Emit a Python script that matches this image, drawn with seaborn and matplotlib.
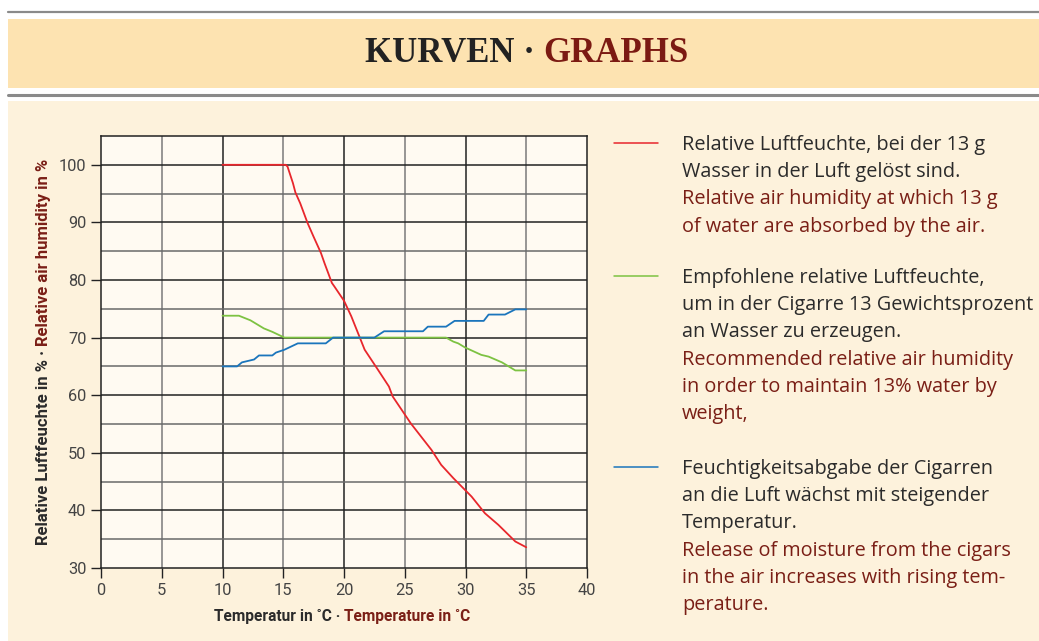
import numpy as np
import pandas as pd
import seaborn as sns
import matplotlib.pyplot as plt
from matplotlib.patches import Rectangle
from matplotlib.lines import Line2D

# values
red_x = [10, 15.2, 15.35, 15.8, 16.0, 16.4, 17.0, 17.5, 18.1, 18.4, 19.0, 19.2, 20.0, 20.6,
         21.7, 22.8, 23.7, 24.0, 25.5, 27.2, 28.0, 29.0, 30.5, 31.6, 32.7, 34.1, 35.0]
red_y = [100, 100, 99.7, 96.8, 95.2, 93.3, 89.9, 87.5, 84.7, 82.9, 79.5, 78.9, 76.4, 73.7,
         67.9, 64.4, 61.5, 59.8, 55.1, 50.5, 47.9, 45.6, 42.4, 39.5, 37.5, 34.6, 33.6]

green_x = [10, 11.35, 12.3, 13.4, 14.1, 15.1, 28.4, 29.0, 29.4, 29.95, 31.3, 31.9, 33.0, 34.1, 35.0]
green_y = [73.8, 73.8, 73.0, 71.6, 71.0, 70.0, 70.0, 69.3, 69.0, 68.3, 67.0, 66.7, 65.7, 64.3, 64.3]

blue_x = [10, 11.2, 11.6, 12.6, 13.0, 14.1, 14.4, 15.1, 16.2, 18.5, 19.1, 22.5, 23.3, 26.5,
          26.9, 28.4, 29.1, 31.5, 31.9, 33.25, 34.1, 35.0]
blue_y = [65.0, 65.0, 65.7, 66.2, 66.9, 66.9, 67.4, 67.9, 69.0, 69.0, 70.0, 70.0, 71.1, 71.1,
          71.9, 71.9, 72.9, 72.9, 74.0, 74.0, 74.9, 74.9]

x_ticks = [0, 5, 10, 15, 20, 25, 30, 35, 40]
y_ticks = [30, 40, 50, 60, 70, 80, 90, 100]

legend_de = [["Relative Luftfeuchte, bei der 13 g", "Wasser in der Luft gelöst sind."],
             ["Empfohlene relative Luftfeuchte,", "um in der Cigarre 13 Gewichtsprozent",
              "an Wasser zu erzeugen."],
             ["Feuchtigkeitsabgabe der Cigarren", "an die Luft wächst mit steigender",
              "Temperatur."]]
legend_en = [["Relative air humidity at which 13 g", "of water are absorbed by the air."],
             ["Recommended relative air humidity", "in order to maintain 13% water by", "weight,"],
             ["Release of moisture from the cigars", "in the air increases with rising tem-",
              "perature."]]

RED, GREEN, BLUE = "#e8262c", "#7dc242", "#1b75bc"
DARK, BROWN = "#2b2b2b", "#7a1f16"

df = pd.concat([
    pd.DataFrame({"t": red_x, "h": red_y, "curve": "red"}),
    pd.DataFrame({"t": green_x, "h": green_y, "curve": "green"}),
    pd.DataFrame({"t": blue_x, "h": blue_y, "curve": "blue"}),
])

sns.set_style("white")
plt.rcParams["font.family"] = ["Roboto", "DejaVu Sans"]

W, H = 1039, 641
fig = plt.figure(figsize=(W / 100, H / 100), dpi=100)
fig.patch.set_facecolor("white")


def fx(x):
    return x / W


def fy(y):
    return 1 - y / H


# page decorations
fig.patches.append(Rectangle((fx(8), fy(88)), 1, (88 - 19) / H, transform=fig.transFigure,
                             facecolor="#fde3b1", edgecolor="none", zorder=-10))
fig.patches.append(Rectangle((fx(8), 0), 1, (H - 101) / H, transform=fig.transFigure,
                             facecolor="#fdf2dc", edgecolor="none", zorder=-10))
for yy, lw in [(12, 1.6), (95, 2.2)]:
    fig.add_artist(Line2D([fx(8), 1], [fy(yy), fy(yy)], transform=fig.transFigure,
                          color="#8a8a8a", lw=lw, zorder=-5))

ax = fig.add_axes([fx(101), fy(568), (587 - 101) / W, (568 - 136) / H])
ax.set_facecolor("#fffaf2")

sns.lineplot(data=df, x="t", y="h", hue="curve", palette={"red": RED, "green": GREEN, "blue": BLUE},
             sort=False, estimator=None, linewidth=1.3, legend=False, ax=ax, zorder=5)

ax.set_xlim(0, 40)
ax.set_ylim(30, 105)
ax.set_xticks(x_ticks)
ax.set_yticks(y_ticks)
for v in range(5, 40, 5):
    ax.axvline(v, color="#222222" if v % 10 == 0 else "#7a7a7a", lw=1.1, zorder=1)
for v in range(35, 105, 5):
    ax.axhline(v, color="#222222" if v % 10 == 0 else "#6a6a6a", lw=1.1, zorder=1)
for s in ax.spines.values():
    s.set_color("#222222")
    s.set_linewidth(1.1)
ax.tick_params(axis="both", direction="out", length=7.5, width=1.0, color="#222222",
               labelsize=11.8, labelcolor="#444444", pad=3, left=True, bottom=True)
ax.set_xlabel("")
ax.set_ylabel("")

# two-colour axis labels
xl1 = fig.text(fx(214), fy(616), "Temperatur in ˚C · ", fontsize=11.2, fontweight="bold",
               color=DARK, ha="left", va="center")
ax.annotate("Temperature in ˚C", xy=(1, 0), xycoords=xl1, fontsize=11.2, fontweight="bold",
            color=BROWN, ha="left", va="bottom", annotation_clip=False)
yl1 = fig.text(fx(44), fy(545), "Relative Luftfeuchte in % · ", fontsize=12, fontweight="bold",
               color=DARK, ha="center", va="bottom", rotation=90)
ax.annotate("Relative air humidity in %", xy=(0.5, 1), xycoords=yl1, fontsize=12,
            fontweight="bold", color=BROWN, ha="center", va="bottom", rotation=90,
            annotation_clip=False)

# title
t1 = fig.text(0.5, fy(53), "KURVEN · ", fontsize=25, fontweight="bold", color="#222222",
              family="Liberation Serif", ha="left", va="center")
t2 = ax.annotate("GRAPHS", xy=(1, 0), xycoords=t1, fontsize=25, fontweight="bold",
                 color="#7b1a12", family="Liberation Serif", ha="left", va="bottom",
                 annotation_clip=False)
fig.canvas.draw()
r = fig.canvas.get_renderer()
b1 = t1.get_window_extent(r)
b2 = t2.get_window_extent(r)
total = b2.x1 - b1.x0
t1.set_x(fx(527 - total / 2))

# legend block on the right
line_h = 27.2
starts = [145, 278, 469]
colors = [RED, GREEN, BLUE]
for y0, c, de, en in zip(starts, colors, legend_de, legend_en):
    fig.add_artist(Line2D([fx(614), fx(658)], [fy(y0 - 2), fy(y0 - 2)],
                          transform=fig.transFigure, color=c, lw=1.1))
    for i, (txt, col) in enumerate([(s, DARK) for s in de] + [(s, BROWN) for s in en]):
        fig.text(fx(682), fy(y0 + i * line_h), txt, fontsize=14.3, color=col,
                 family=["Open Sans", "DejaVu Sans"], ha="left", va="center")

fig.savefig("out.png", dpi=100, facecolor=fig.get_facecolor())
